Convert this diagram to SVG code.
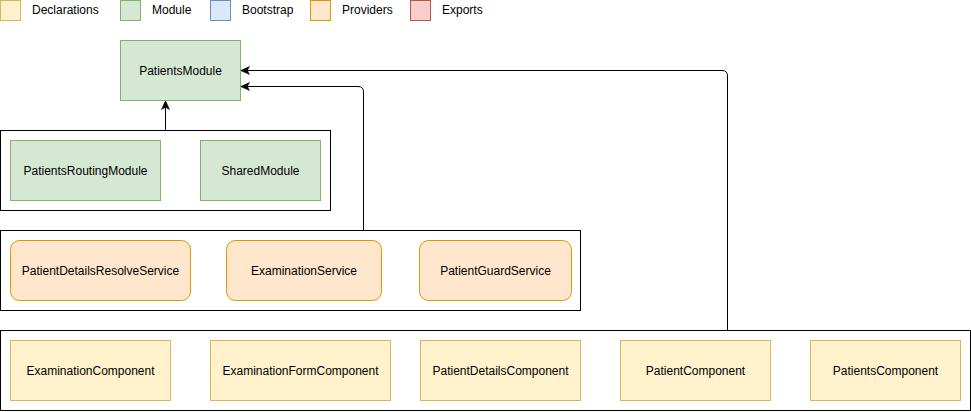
<svg xmlns="http://www.w3.org/2000/svg" width="971" height="412" viewBox="0 0 971 412">
<style>
text{font-family:"Liberation Sans",Arial,sans-serif;font-size:12px;fill:#000}
.c{text-anchor:middle}
.decl{fill:#fff2cc;stroke:#d6b656;stroke-width:1}
.mod{fill:#d5e8d4;stroke:#82b366;stroke-width:1}
.boot{fill:#dae8fc;stroke:#6c8ebf;stroke-width:1}
.prov{fill:#ffe6cc;stroke:#d79b00;stroke-width:1}
.exp{fill:#f8cecc;stroke:#b85450;stroke-width:1}
.cont{fill:#fff;stroke:#000;stroke-width:1}
.edge{fill:none;stroke:#000;stroke-width:1}
</style>
<defs>
<marker id="arr" markerUnits="userSpaceOnUse" markerWidth="9" markerHeight="9" viewBox="0 0 9 9" refX="9" refY="4.5" orient="auto">
<path d="M9,4.5 L0,0.5 L2.2,4.5 L0,8.5 Z" fill="#000" stroke="#000" stroke-width="0.5"/>
</marker>
</defs>
<rect width="971" height="412" fill="#fff"/>
<g id="legend">
<rect class="decl" x="0.5" y="0.5" width="20" height="20"/>
<text x="32" y="14">Declarations</text>
<rect class="mod" x="120.5" y="0.5" width="20" height="20"/>
<text x="152" y="14">Module</text>
<rect class="boot" x="210.5" y="0.5" width="20" height="20"/>
<text x="242" y="14">Bootstrap</text>
<rect class="prov" x="310.5" y="0.5" width="20" height="20"/>
<text x="342" y="14">Providers</text>
<rect class="exp" x="410.5" y="0.5" width="20" height="20"/>
<text x="442" y="14">Exports</text>
</g>
<g id="imports-container">
<rect class="cont" x="0.5" y="130.5" width="330" height="80"/>
</g>
<g id="providers-container">
<rect class="cont" x="0.5" y="230.5" width="580" height="80"/>
</g>
<g id="declarations-container">
<rect class="cont" x="0.5" y="330.5" width="970" height="80"/>
</g>
<g id="connectors">
<path class="edge" d="M727.5,330.5 L727.5,76 Q727.5,70.5 722,70.5 L240.5,70.5" marker-end="url(#arr)"/>
<path class="edge" d="M363.5,230.5 L363.5,92 Q363.5,86.5 358,86.5 L240.5,86.5" marker-end="url(#arr)"/>
<path class="edge" d="M165.5,130.5 L165.5,100.5" marker-end="url(#arr)"/>
</g>
<g id="PatientsModule">
<rect class="mod" x="120.5" y="40.5" width="120" height="60"/>
<text class="c" x="180.5" y="75">PatientsModule</text>
</g>
<g id="PatientsRoutingModule">
<rect class="mod" x="10.5" y="140.5" width="150" height="60"/>
<text class="c" x="85.5" y="175">PatientsRoutingModule</text>
</g>
<g id="SharedModule">
<rect class="mod" x="200.5" y="140.5" width="120" height="60"/>
<text class="c" x="260.5" y="175">SharedModule</text>
</g>
<g id="PatientDetailsResolveService">
<rect class="prov" x="10.5" y="240.5" width="180" height="60" rx="9" ry="9"/>
<text class="c" x="100.5" y="275">PatientDetailsResolveService</text>
</g>
<g id="ExaminationService">
<rect class="prov" x="226.5" y="240.5" width="155" height="60" rx="9" ry="9"/>
<text class="c" x="304" y="275">ExaminationService</text>
</g>
<g id="PatientGuardService">
<rect class="prov" x="419.5" y="240.5" width="152" height="60" rx="9" ry="9"/>
<text class="c" x="495.5" y="275">PatientGuardService</text>
</g>
<g id="ExaminationComponent">
<rect class="decl" x="10.5" y="340.5" width="160" height="60"/>
<text class="c" x="90.5" y="375">ExaminationComponent</text>
</g>
<g id="ExaminationFormComponent">
<rect class="decl" x="210.5" y="340.5" width="180" height="60"/>
<text class="c" x="300.5" y="375">ExaminationFormComponent</text>
</g>
<g id="PatientDetailsComponent">
<rect class="decl" x="420.5" y="340.5" width="160" height="60"/>
<text class="c" x="500.5" y="375">PatientDetailsComponent</text>
</g>
<g id="PatientComponent">
<rect class="decl" x="620.5" y="340.5" width="150" height="60"/>
<text class="c" x="695.5" y="375">PatientComponent</text>
</g>
<g id="PatientsComponent">
<rect class="decl" x="810.5" y="340.5" width="150" height="60"/>
<text class="c" x="885.5" y="375">PatientsComponent</text>
</g>
</svg>
